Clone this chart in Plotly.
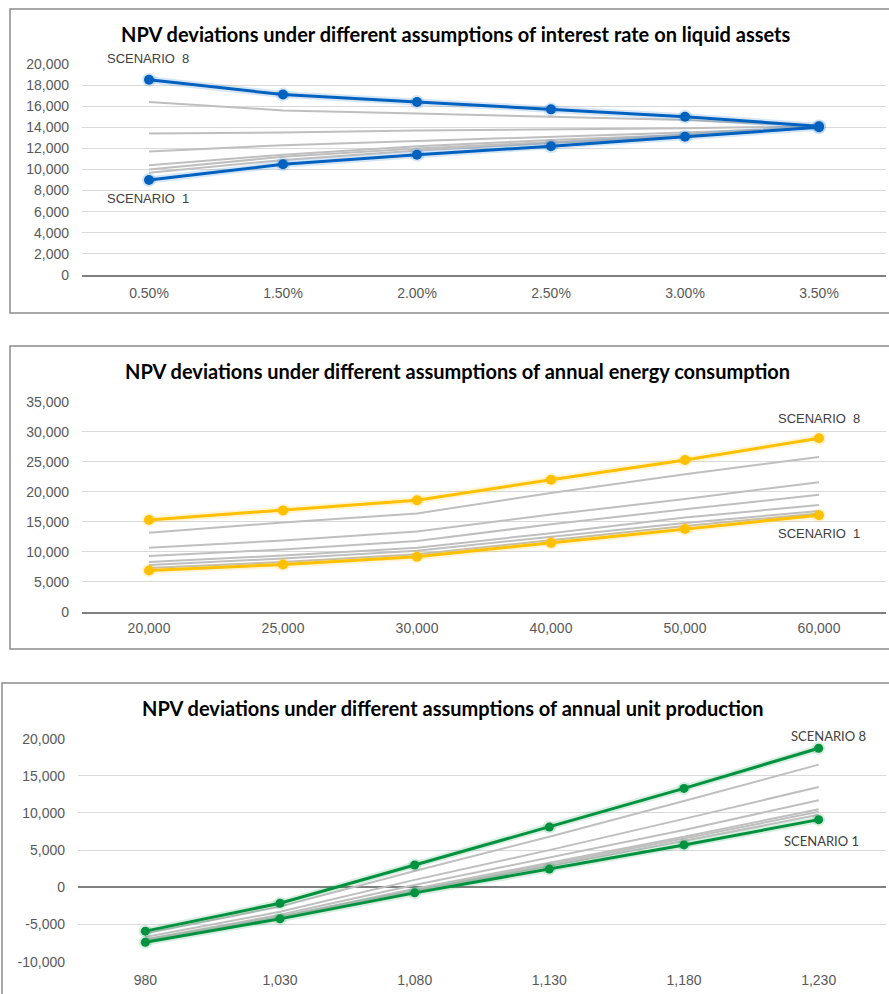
import plotly.graph_objects as go

W, H = 889, 994

# ---------------- data ----------------
rate_labels = ["0.50%", "1.50%", "2.00%", "2.50%", "3.00%", "3.50%"]
rate_s8 = [18500, 17100, 16400, 15700, 15000, 14100]
rate_s7 = [16400, 15600, 15300, 15000, 14700, 14100]
rate_s6 = [13400, 13500, 13700, 13800, 13900, 14100]
rate_s5 = [11700, 12300, 12700, 13100, 13500, 14000]
rate_s4 = [10400, 11400, 12200, 12800, 13300, 14000]
rate_s3 = [10000, 11200, 12000, 12600, 13200, 14000]
rate_s2 = [9700, 10900, 11800, 12500, 13100, 14000]
rate_s1 = [9000, 10500, 11400, 12200, 13100, 14000]

energy_labels = ["20,000", "25,000", "30,000", "40,000", "50,000", "60,000"]
energy_s8 = [15300, 16900, 18600, 22000, 25300, 28900]
energy_s7 = [13200, 14900, 16400, 19800, 22900, 25800]
energy_s6 = [10700, 11900, 13400, 16200, 18800, 21600]
energy_s5 = [9300, 10400, 11800, 14600, 17100, 19500]
energy_s4 = [8300, 9400, 10700, 13100, 15700, 17800]
energy_s3 = [7800, 8900, 10200, 12500, 14800, 16800]
energy_s2 = [7300, 8300, 9600, 12000, 14300, 16400]
energy_s1 = [6900, 7900, 9200, 11500, 13800, 16100]

unit_labels = ["980", "1,030", "1,080", "1,130", "1,180", "1,230"]
unit_s8 = [-5900, -2150, 3000, 8100, 13300, 18700]
unit_s7 = [-6200, -2600, 2200, 6800, 11600, 16500]
unit_s6 = [-6700, -3300, 1000, 5000, 9200, 13500]
unit_s5 = [-7000, -3700, 300, 4000, 7700, 11700]
unit_s4 = [-7200, -3950, -200, 3250, 6800, 10500]
unit_s3 = [-7250, -4000, -350, 3050, 6550, 10150]
unit_s2 = [-7300, -4100, -500, 2850, 6250, 9750]
unit_s1 = [-7400, -4250, -750, 2450, 5700, 9100]

unit_ytick_vals = [-10000, -5000, 0, 5000, 10000, 15000, 20000]
unit_ytick_text = ["-10,000", "-5,000", "0", "5,000", "10,000", "15,000", "20,000"]

titles = [
    "NPV deviations under different assumptions of interest rate on liquid assets",
    "NPV deviations under different assumptions of annual energy consumption",
    "NPV deviations under different assumptions of annual unit production",
]

# ---------------- helpers (target pixel -> paper) ----------------
VY_OFF, VY_SCALE = 7.0, 0.984   # empirical vertical mapping of the captured page


def px(x):
    return x / W


def py(y):
    return 1 - ((y - VY_OFF) / VY_SCALE) / H


GRAY = "#bfbfbf"
TICK = "#595959"
GRID = "#d9d9d9"

fig = go.Figure()

panels = [
    dict(labels=rate_labels, hi=(rate_s1, rate_s8), grays=[rate_s2, rate_s3, rate_s4, rate_s5, rate_s6, rate_s7],
         color=(0, 97, 191), mw=10, ax="x", ay="y"),
    dict(labels=energy_labels, hi=(energy_s1, energy_s8), grays=[energy_s2, energy_s3, energy_s4, energy_s5, energy_s6, energy_s7],
         color=(255, 192, 0), mw=10, ax="x2", ay="y2"),
    dict(labels=unit_labels, hi=(unit_s1, unit_s8), grays=[unit_s2, unit_s3, unit_s4, unit_s5, unit_s6, unit_s7],
         color=(0, 146, 63), mw=9, ax="x3", ay="y3"),
]

for p in panels:
    r, g, b = p["color"]
    for s in p["grays"]:
        fig.add_trace(go.Scatter(x=p["labels"], y=s, mode="lines", xaxis=p["ax"], yaxis=p["ay"],
                                 line=dict(color=GRAY, width=2), showlegend=False, hoverinfo="skip"))
    for s in p["hi"]:
        # soft glow
        fig.add_trace(go.Scatter(x=p["labels"], y=s, mode="lines+markers", xaxis=p["ax"], yaxis=p["ay"],
                                 line=dict(color=f"rgba({r},{g},{b},0.16)", width=7),
                                 marker=dict(size=p["mw"] + 4, color=f"rgba({r},{g},{b},0.16)"),
                                 showlegend=False, hoverinfo="skip"))
        fig.add_trace(go.Scatter(x=p["labels"], y=s, mode="lines+markers", xaxis=p["ax"], yaxis=p["ay"],
                                 line=dict(color=f"rgb({r},{g},{b})", width=3),
                                 marker=dict(size=p["mw"], color=f"rgb({r},{g},{b})"),
                                 showlegend=False))

tickfont = dict(family="Liberation Sans, Arial, sans-serif", size=14, color=TICK)


def xaxis(domain, showline, standoff):
    return dict(domain=domain, type="category", range=[-0.5, 5.5], showgrid=False, zeroline=False,
                showline=showline, linecolor="#808080", linewidth=2, ticks="", tickfont=tickfont,
                ticklabelstandoff=standoff, fixedrange=True)


def yaxis(domain, rng, dtick, zeroline):
    return dict(domain=domain, range=rng, dtick=dtick, tick0=0, showgrid=True, gridcolor=GRID, gridwidth=1,
                zeroline=zeroline, zerolinecolor="#808080", zerolinewidth=2, showline=False,
                tickformat=",d", ticks="", tickfont=tickfont, ticklabelstandoff=12, fixedrange=True)


y3 = yaxis([py(960.7), py(737.7)], [-10000, 20000], 5000, True)
y3.update(tickmode="array", tickvals=unit_ytick_vals, ticktext=unit_ytick_text)

fig.update_layout(
    width=W, height=H, margin=dict(l=0, r=0, t=0, b=0),
    paper_bgcolor="white", plot_bgcolor="white",
    xaxis=dict(xaxis([px(82), px(886)], True, 4), anchor="y"),
    yaxis=dict(yaxis([py(274), py(63)], [0, 20000], 2000, False), anchor="x"),
    xaxis2=dict(xaxis([px(82), px(886)], True, 2), anchor="y2"),
    yaxis2=dict(yaxis([py(611), py(400.7)], [0, 35000], 5000, False), anchor="x2"),
    xaxis3=dict(xaxis([px(78), px(886)], False, 8), anchor="y3"),
    yaxis3=dict(y3, anchor="x3"),
)

# boxes
boxes = [(10, 8, 900, 312), (10, 345, 900, 648), (2, 682, 900, 1010)]
for x0, y0, x1, y1 in boxes:
    fig.add_shape(type="rect", xref="paper", yref="paper", x0=px(x0), x1=px(x1), y0=py(y1), y1=py(y0),
                  line=dict(color="#8c8c8c", width=1.5), fillcolor="rgba(0,0,0,0)", layer="below")

titlefont = dict(family="Lato, Open Sans, sans-serif", size=20, color="#000000")
for t, (cx, cy) in zip(titles, [(456, 33), (457, 370), (453, 707)]):
    fig.add_annotation(text=f"<b>{t}</b>", xref="paper", yref="paper", x=px(cx), y=py(cy),
                       xanchor="center", yanchor="middle", showarrow=False, font=titlefont)

labfont = dict(family="Liberation Sans, Arial, sans-serif", size=13, color="#404040")
labfont3 = dict(family="Lato, sans-serif", size=13, color="#404040")
nb = "\u00a0"
scen = [
    (f"SCENARIO{nb}{nb}8", 148, 58, labfont),
    (f"SCENARIO{nb}{nb}1", 148, 198, labfont),
    (f"SCENARIO{nb}{nb}8", 819, 418, labfont),
    (f"SCENARIO{nb}{nb}1", 819, 533, labfont),
    ("SCENARIO 8", 828, 735, labfont3),
    ("SCENARIO 1", 821, 840, labfont3),
]
for t, cx, cy, f in scen:
    fig.add_annotation(text=t, xref="paper", yref="paper", x=px(cx), y=py(cy),
                       xanchor="center", yanchor="middle", showarrow=False, font=f)

fig.write_html("out.html", config={"displayModeBar": False, "staticPlot": True},
               post_script="document.body.style.margin='0';document.body.style.overflow='hidden';")
